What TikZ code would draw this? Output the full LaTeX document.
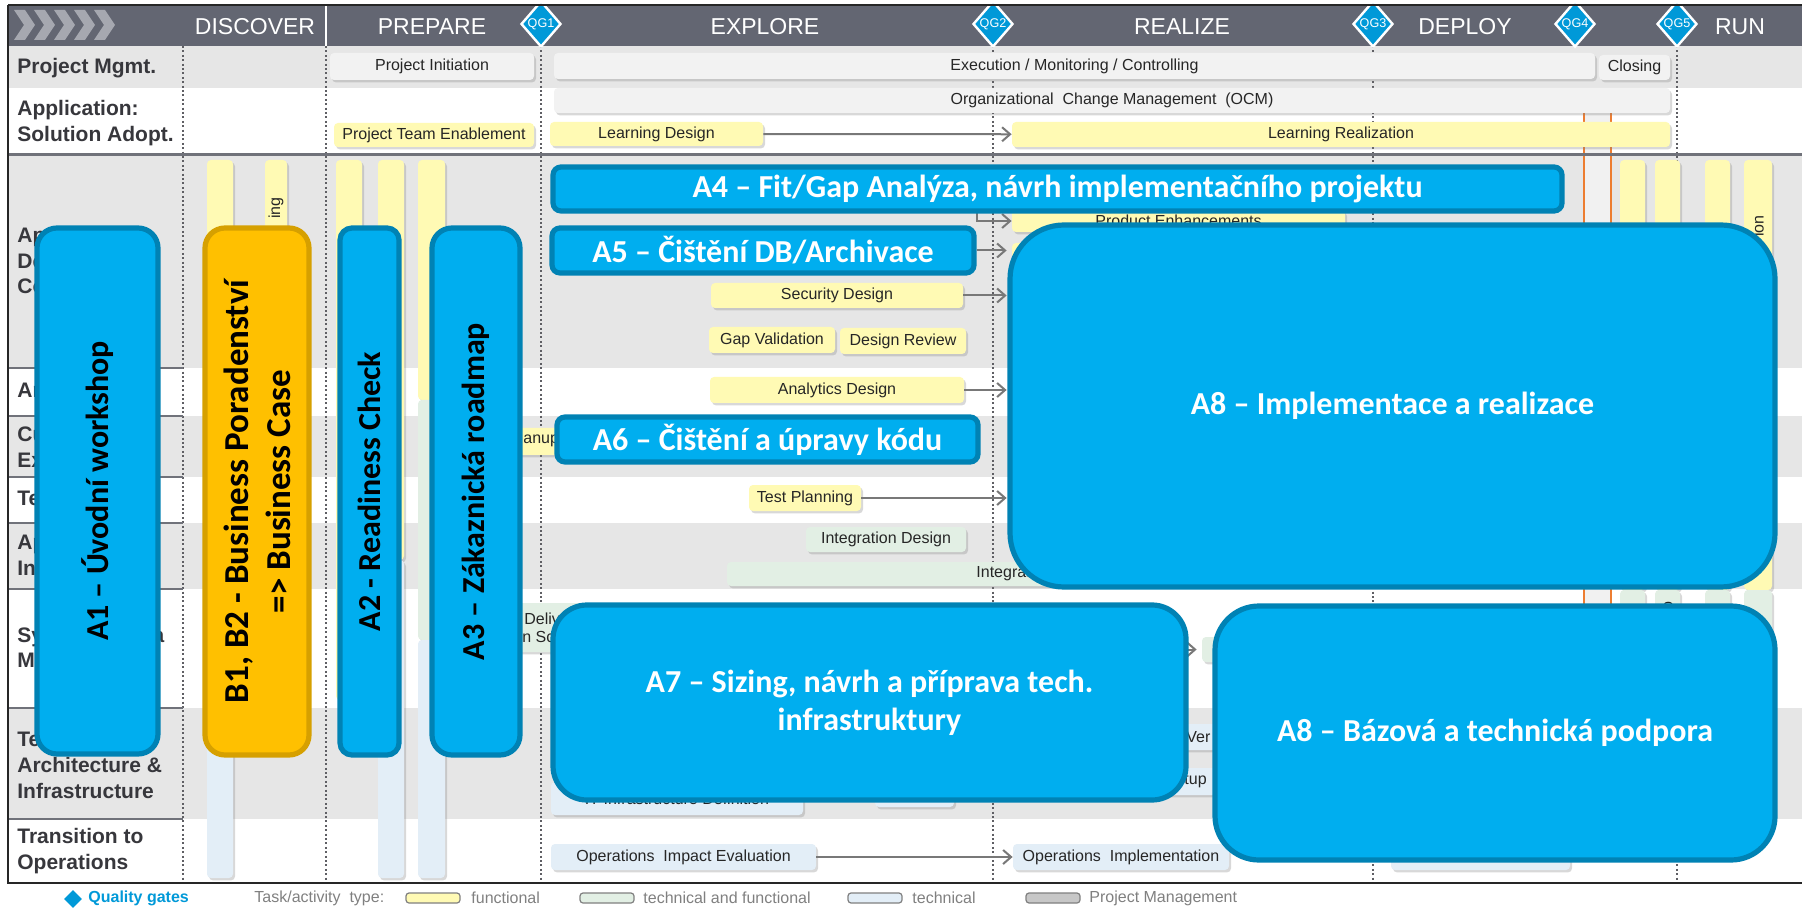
\documentclass[tikz,border=0pt]{standalone}
\usepackage{fontspec}
\setmainfont{Liberation Sans}
\newfontfamily\boxfont{Carlito}
\usepackage{tikz}
\usetikzlibrary{fit}
\usetikzlibrary{shadows}
\usetikzlibrary{shapes.geometric}
\usetikzlibrary{arrows.meta}
\usepackage{xcolor}
\definecolor{hdrgray}{RGB}{99,102,114}
\definecolor{chevgray}{RGB}{166,168,176}
\definecolor{rowgray}{RGB}{230,230,230}
\definecolor{linegray}{RGB}{112,114,122}
\definecolor{gategray}{RGB}{95,95,100}
\definecolor{qgblue}{RGB}{0,153,216}
\definecolor{funcyellow}{RGB}{255,250,180}
\definecolor{tfgreen}{RGB}{226,239,228}
\definecolor{techblue}{RGB}{227,238,247}
\definecolor{pmgray}{RGB}{242,242,242}
\definecolor{accblue}{RGB}{0,174,239}
\definecolor{accborder}{RGB}{0,130,180}
\definecolor{bizgold}{RGB}{255,192,0}
\definecolor{bizborder}{RGB}{214,160,0}
\definecolor{runorange}{RGB}{237,125,49}
\definecolor{runcol}{RGB}{241,241,241}
\definecolor{arrowgray}{RGB}{120,120,120}
\definecolor{labelgray}{RGB}{55,55,60}

\begin{document}
\begin{tikzpicture}[x=0.5pt, y=-0.5pt]
    \tikzstyle{rowlabel}=[anchor=west, align=left, inner sep=0pt, text=labelgray, font=\bfseries\fontsize{10.5}{12.8}\selectfont]
    \tikzstyle{phase}=[text=white, inner sep=0pt, font=\fontsize{11.5}{14}\selectfont]
    \tikzstyle{gate}=[diamond, fill=qgblue, draw=white, line width=1.2pt, minimum width=20pt, minimum height=23pt, inner sep=0pt]
    \tikzstyle{gatetext}=[text=white, inner sep=0pt, font=\fontsize{6.3}{7}\selectfont]
    \tikzstyle{task}=[rounded corners=2pt, inner sep=0pt, drop shadow={shadow xshift=1pt, shadow yshift=-1.2pt, opacity=0.3}]
    \tikzstyle{func}=[task, fill=funcyellow]
    \tikzstyle{techfunc}=[task, fill=tfgreen]
    \tikzstyle{tech}=[task, fill=techblue]
    \tikzstyle{pm}=[task, fill=pmgray]
    \tikzstyle{frag}=[inner sep=0pt, text=black!85, font=\fontsize{8}{9.5}\selectfont]
    \tikzstyle{flow}=[draw=arrowgray, line width=1pt, -{Straight Barb[length=4pt, width=7pt]}]
    \tikzstyle{accel}=[draw=accborder, fill=accblue, line width=2.6pt, inner sep=0pt]
    \tikzstyle{biz}=[accel, draw=bizborder, fill=bizgold]
    \tikzstyle{acctext}=[inner sep=0pt, text=white, align=center, font=\boxfont\bfseries\fontsize{16}{19}\selectfont]
    \tikzstyle{vtext}=[rotate=90, inner sep=0pt, text=black, align=center, font=\boxfont\bfseries\fontsize{16}{19}\selectfont]
    \tikzstyle{gateline}=[draw=gategray, line width=1pt, dash pattern=on 1pt off 1.2pt]
    \tikzstyle{rowsep}=[draw=linegray, line width=1.2pt]
    \tikzstyle{legbox}=[rounded corners=1.5pt, draw=gray, line width=0.6pt, minimum width=27pt, minimum height=5pt, inner sep=0pt]
    \tikzstyle{legtext}=[anchor=west, inner sep=0pt, text=gray, font=\fontsize{8}{9.5}\selectfont]

    \useasboundingbox (0,0) rectangle (1802,908);
    \fill[white] (0,0) rectangle (1802,908);

    \fill[rowgray] (8,46) rectangle (1802,88);
    \fill[rowgray] (8,155) rectangle (1802,368);
    \fill[rowgray] (8,416) rectangle (1802,477);
    \fill[rowgray] (8,523) rectangle (1802,589);
    \fill[rowgray] (8,708) rectangle (1802,819);
    \fill[runcol] (1584,113) rectangle (1611,860);
    \draw[runorange, line width=0.9pt] (1584,113) -- (1584,860);
    \draw[runorange, line width=0.9pt] (1611,113) -- (1611,860);

    \foreach \x in {183,326,541,993,1373,1677}
        \draw[gateline] (\x,46) -- (\x,883);
    \foreach \y in {368,416,477,523,589,708,819}
        \draw[rowsep] (8,\y) -- (183,\y);
    \draw[linegray, line width=1.5pt] (8,155) -- (1802,155);

    \fill[hdrgray] (8,5) rectangle (1802,46);
    \foreach \i in {0,...,4}
        \fill[chevgray] (14+\i*20,10) -- ++(11,0) -- ++(10,15) -- ++(-10,15) -- ++(-11,0) -- ++(10,-15) -- cycle;
    \draw[white, line width=1pt] (326,6) -- (326,46);
    \node[phase] (pdiscover) at (255,27) {DISCOVER};
    \node[phase] (pprepare) at (432,27) {PREPARE};
    \node[phase] (pexplore) at (765,27) {EXPLORE};
    \node[phase] (prealize) at (1182,27) {REALIZE};
    \node[phase] (pdeploy) at (1465,27) {DEPLOY};
    \node[phase] (prun) at (1740,27) {RUN};

    \node[rowlabel] (lpm) at (17,68) {Project Mgmt.};
    \node[rowlabel] (ladopt) at (17,123) {Application:\\Solution Adopt.};
    \node[rowlabel] (ldesign) at (17,263) {Application:\\Design \&\\Configuration};
    \node[rowlabel] (lanalytics) at (17,392) {Analytics};
    \node[rowlabel] (lext) at (17,447) {Custom\\Extensions};
    \node[rowlabel] (ltest) at (17,500) {Testing};
    \node[rowlabel] (lint) at (17,557) {Application\\Integration};
    \node[rowlabel] (lmig) at (17,650) {System \& Data\\Migration};
    \node[rowlabel] (ltech) at (17,765) {Technical\\Architecture \&\\Infrastructure};
    \node[rowlabel] (lops) at (17,851) {Transition to\\Operations};

    \node[pm, fit={(330,53) (534,80)}] (pinit) {};
    \node[frag] (pinittext) at (pinit.center) {Project Initiation};
    \node[pm, fit={(554,53) (1595,79)}] (exec) {};
    \node[frag] (exectext) at (exec.center) {Execution / Monitoring / Controlling};
    \node[pm, fit={(1599,55) (1670,80)}] (closing) {};
    \node[frag] (closingtext) at (closing.center) {Closing};
    \node[pm, fit={(554,88) (1670,113)}] (ocm) {};
    \node[frag] (ocmtext) at (ocm.center) {Organizational\ \ Change Management\ \ (OCM)};
    \node[func, fit={(334,123) (534,147)}] (pte) {};
    \node[frag] (ptetext) at (pte.center) {Project Team Enablement};
    \node[func, fit={(550,122) (763,146)}] (ldes) {};
    \node[frag] (ldestext) at (ldes.center) {Learning Design};
    \node[func, fit={(1012,122) (1670,147)}] (lreal) {};
    \node[frag] (lrealtext) at (lreal.center) {Learning Realization};
    \draw[flow] (ldes) -- (lreal);

    \node[func, fit={(207,160) (233,500)}] (bar1) {};
    \node[tech, fit={(207,500) (233,878)}] (bar1b) {};
    \node[func, fit={(265,160) (287,700)}] (bar2) {};
    \node[frag, rotate=90, anchor=east] (ingtxt) at (276,197) {ing};
    \node[func, fit={(336,160) (362,700)}] (bar3) {};
    \node[func, fit={(378,160) (404,560)}] (bar4) {};
    \node[tech, fit={(378,560) (404,878)}] (bar4b) {};
    \node[func, fit={(418,160) (445,400)}] (bar5) {};
    \node[techfunc, fit={(418,400) (445,640)}] (bar5b) {};
    \node[tech, fit={(418,640) (445,878)}] (bar5c) {};

    \node[func, fit={(1620,160) (1645,590)}] (run1) {};
    \node[techfunc, fit={(1620,590) (1645,640)}] (run1b) {};
    \node[func, fit={(1655,160) (1680,590)}] (run2) {};
    \node[techfunc, fit={(1655,590) (1680,640)}] (run2b) {};
    \node[frag, rotate=90] (lotxt) at (1667,608) {lo};
    \node[func, fit={(1705,160) (1730,590)}] (run3) {};
    \node[techfunc, fit={(1705,590) (1730,640)}] (run3b) {};
    \node[func, fit={(1744,160) (1772,590)}] (run4) {};
    \node[techfunc, fit={(1744,590) (1772,640)}] (run4b) {};
    \node[frag, rotate=90, anchor=east] (iontxt) at (1758,215) {ion};

    \node[func, fit={(711,172) (963,198)}] (fitgap) {};
    \node[func, fit={(1012,210) (1345,232)}] (prodenh) {};
    \node[frag] (prodenhtext) at (prodenh.center) {Product Enhancements};
    \draw[flow] (fitgap.east) -- ++(14,0) |- (prodenh.west);
    \node[func, fit={(1012,243) (1200,268)}] (dbnext) {};
    \node[func, fit={(711,283) (963,308)}] (secdes) {};
    \node[frag] (secdestext) at (secdes.center) {Security Design};
    \node[func, fit={(1012,283) (1300,308)}] (secimpl) {};
    \draw[flow, shorten >=2.5pt] (secdes) -- (secimpl);
    \node[func, fit={(709,327) (835,353)}] (gapval) {};
    \node[frag] (gapvaltext) at (gapval.center) {Gap Validation};
    \node[func, fit={(840,328) (966,354)}] (desrev) {};
    \node[frag] (desrevtext) at (desrev.center) {Design Review};
    \node[func, fit={(710,377) (964,403)}] (anades) {};
    \node[frag] (anadestext) at (anades.center) {Analytics Design};
    \node[func, fit={(1012,377) (1300,403)}] (anaimpl) {};
    \draw[flow, shorten >=2.5pt] (anades) -- (anaimpl);
    \node[func, fit={(440,428) (600,455)}] (cleanup) {};
    \node[frag, anchor=west] (anuptxt) at (523,441) {anup};
    \node[func, fit={(749,485) (861,511)}] (testplan) {};
    \node[frag] (testplantext) at (testplan.center) {Test Planning};
    \node[func, fit={(1012,485) (1300,511)}] (testimpl) {};
    \draw[flow, shorten >=2.5pt] (testplan) -- (testimpl);
    \node[techfunc, fit={(806,527) (966,552)}] (intdes) {};
    \node[frag] (intdestext) at (intdes.center) {Integration Design};
    \node[techfunc, fit={(727,562) (1300,586)}] (intimpl) {};
    \node[frag, anchor=west] (inttxt) at (976,574) {Integrat};

    \node[techfunc, fit={(470,603) (720,652)}] (deliv) {};
    \node[frag, anchor=west] (delivtxt) at (524,619) {Deliv};
    \node[frag, anchor=west] (nsctxt) at (522,637) {n Sc};
    \node[techfunc, fit={(720,637) (1160,662)}] (dmig) {};
    \node[techfunc, fit={(1202,637) (1260,662)}] (dload) {};
    \draw[flow, shorten >=2.5pt] (dmig) -- (dload);
    \node[tech, fit={(1040,724) (1216,750)}] (vertask) {};
    \node[frag, anchor=west] (vertxt) at (1186,737) {Ver};
    \node[tech, fit={(1040,768) (1216,795)}] (setuptask) {};
    \node[frag, anchor=west] (tuptxt) at (1184,781) {tup};
    \node[tech, fit={(551,782) (803,815)}] (itdef) {};
    \node[frag] (itdeftext) at (itdef.center) {IT Infrastructure Definition};
    \node[tech, fit={(875,780) (954,807)}] (itsmall) {};
    \node[tech, fit={(551,844) (816,870)}] (opeval) {};
    \node[frag] (opevaltext) at (opeval.center) {Operations\ \ Impact Evaluation};
    \node[tech, fit={(1013,844) (1229,870)}] (opimpl) {};
    \node[frag] (opimpltext) at (opimpl.center) {Operations\ \ Implementation};
    \draw[flow] (opeval) -- (opimpl);
    \node[tech, fit={(1391,842) (1570,870)}] (opnext) {};

    \node[gate, label={[gatetext]center:QG1}] (qg1) at (541,24) {};
    \node[gate, label={[gatetext]center:QG2}] (qg2) at (993,24) {};
    \node[gate, label={[gatetext]center:QG3}] (qg3) at (1373,24) {};
    \node[gate, label={[gatetext]center:QG4}] (qg4) at (1575,24) {};
    \node[gate, label={[gatetext]center:QG5}] (qg5) at (1677,24) {};

    \node[accel, rounded corners=4pt, fit={(553,167) (1562,211)}] (a4) {};
    \node[acctext] (a4t) at (a4.center) {A4 – Fit/Gap Analýza, návrh implementačního projektu};
    \node[accel, rounded corners=4pt, fit={(552,228) (974,273)}] (a5) {};
    \node[acctext] (a5t) at (a5.center) {A5 – Čištění DB/Archivace};
    \draw[flow, shorten >=2.5pt] (a5) -- (a5 -| dbnext.west);
    \node[accel, rounded corners=4pt, fit={(557,417) (978,462)}] (a6) {};
    \node[acctext] (a6t) at (a6.center) {A6 – Čištění a úpravy kódu};
    \node[accel, rounded corners=17pt, fit={(553,605) (1186,800)}] (a7) {};
    \node[acctext] (a7t) at (a7.center) {A7 – Sizing, návrh a příprava tech.\\infrastruktury};
    \node[accel, rounded corners=27pt, fit={(1010,225) (1775,587)}] (a8) {};
    \node[acctext] (a8t) at (a8.center) {A8 – Implementace a realizace};
    \node[accel, rounded corners=22pt, fit={(1215,606) (1775,860)}] (a8b) {};
    \node[acctext] (a8bt) at (a8b.center) {A8 – Bázová a technická podpora};

    \node[accel, rounded corners=10pt, fit={(37,228) (158,754)}] (a1) {};
    \node[vtext] (a1t) at (a1.center) {A1 – Úvodní workshop};
    \node[biz, rounded corners=10pt, fit={(205,228) (309,755)}] (b12) {};
    \node[vtext, font=\boxfont\bfseries\fontsize{17.5}{21}\selectfont] (b12t) at (b12.center) {B1, B2 - Business Poradenství\\=> Business Case};
    \node[accel, rounded corners=6pt, fit={(340,228) (399,755)}] (a2) {};
    \node[vtext] (a2t) at (a2.center) {A2 - Readiness Check};
    \node[accel, rounded corners=10pt, fit={(432,228) (520,755)}] (a3) {};
    \node[vtext] (a3t) at (a3.center) {A3 – Zákaznická roadmap};

    \draw[black!85, line width=1pt] (8,5) -- (1802,5);
    \draw[black!85, line width=1pt] (8,5) -- (8,883) -- (1802,883);

    \node[diamond, fill=qgblue, minimum width=9pt, minimum height=9pt, inner sep=0pt] (legqg) at (73,899) {};
    \node[anchor=west, inner sep=0pt, text=qgblue, font=\bfseries\fontsize{8}{9.5}\selectfont] (legqgtext) at (88,898) {Quality gates};
    \node[legtext] (legtype) at (254,898) {Task/activity\ \ type:};
    \node[legbox, fill=funcyellow] (legfunc) at (433,898) {};
    \node[legtext] (legfunctext) at (471,898) {functional};
    \node[legbox, fill=tfgreen] (legtf) at (607,898) {};
    \node[legtext] (legtftext) at (643,898) {technical and functional};
    \node[legbox, fill=techblue] (legtech) at (875,898) {};
    \node[legtext] (legtechtext) at (912,898) {technical};
    \node[legbox, fill=black!22] (legpm) at (1053,898) {};
    \node[legtext] (legpmtext) at (1089,898) {Project Management};
\end{tikzpicture}
\end{document}
